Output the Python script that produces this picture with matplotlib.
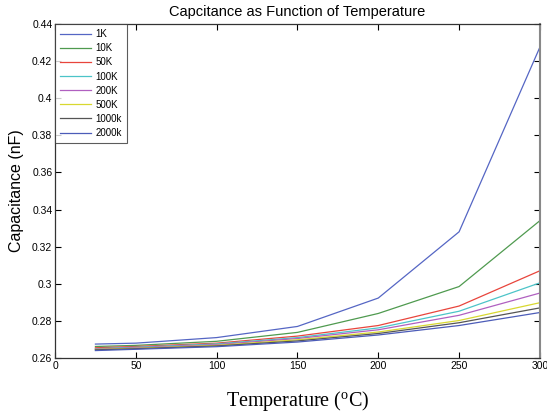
import matplotlib.pyplot as plt

# temperature sweep (deg C) and capacitance (nF) per test frequency
temps = [25, 50, 100, 150, 200, 250, 300]
freq_labels = ["1K", "10K", "50K", "100K", "200K", "500K", "1000k", "2000k"]

cap_1k = [0.2675, 0.2680, 0.2710, 0.2770, 0.2923, 0.3280, 0.4275]
cap_10k = [0.2662, 0.2668, 0.2690, 0.2738, 0.2840, 0.2985, 0.3340]
cap_50k = [0.2655, 0.2662, 0.2680, 0.2718, 0.2775, 0.2880, 0.3070]
cap_100k = [0.2650, 0.2658, 0.2676, 0.2710, 0.2762, 0.2852, 0.3005]
cap_200k = [0.2648, 0.2655, 0.2672, 0.2705, 0.2752, 0.2830, 0.2950]
cap_500k = [0.2646, 0.2652, 0.2668, 0.2698, 0.2740, 0.2802, 0.2898]
cap_1000k = [0.2644, 0.2650, 0.2665, 0.2692, 0.2732, 0.2790, 0.2870]
cap_2000k = [0.2640, 0.2647, 0.2661, 0.2686, 0.2724, 0.2775, 0.2845]

series = [cap_1k, cap_10k, cap_50k, cap_100k, cap_200k, cap_500k, cap_1000k, cap_2000k]
colors = ["#5566c4", "#4f9a4f", "#e8453c", "#4cc4c8", "#b060c0", "#d8d830", "#555555", "#4c5cb8"]

plt.rcParams["font.family"] = ["Liberation Sans", "DejaVu Sans"]

fig = plt.figure(figsize=(5.47, 4.17), dpi=100)
ax = fig.add_axes([0.1006, 0.1415, 0.8864, 0.8010])

for vals, lbl, c in zip(series, freq_labels, colors):
    ax.plot(temps, vals, color=c, lw=0.9, label=lbl)

ax.set_xlim(0, 300)
ax.set_ylim(0.26, 0.44)
ax.set_xticks([0, 50, 100, 150, 200, 250, 300])
ax.set_xticklabels(["0", "50", "100", "150", "200", "250", "300"])
yt = [0.26, 0.28, 0.3, 0.32, 0.34, 0.36, 0.38, 0.4, 0.42, 0.44]
ax.set_yticks(yt)
ax.set_yticklabels(["0.26", "0.28", "0.3", "0.32", "0.34", "0.36", "0.38", "0.4", "0.42", "0.44"])
ax.tick_params(direction="in", length=4, width=0.8, labelsize=7.5, top=True, right=True, pad=2)
for s in ax.spines.values():
    s.set_linewidth(0.9)
    s.set_color("#333333")
ax.spines["right"].set_color("#888888")
ax.spines["right"].set_linewidth(1.5)

ax.set_title("Capcitance as Function of Temperature", fontsize=10.5, pad=6)
ax.set_ylabel("Capacitance (nF)", fontsize=11.5, labelpad=6)
ax.set_xlabel("Temperature ($\\mathregular{^o}$C)", fontsize=14.5,
              family=["Liberation Serif", "DejaVu Serif"], labelpad=13)

leg = ax.legend(loc="upper left", fontsize=7, frameon=True, fancybox=False,
                borderaxespad=0.0, handlelength=3.2, labelspacing=0.42,
                borderpad=0.55, handletextpad=0.4)
leg.get_frame().set_edgecolor("#333333")
leg.get_frame().set_linewidth(0.8)

fig.savefig("out.png", dpi=100)
